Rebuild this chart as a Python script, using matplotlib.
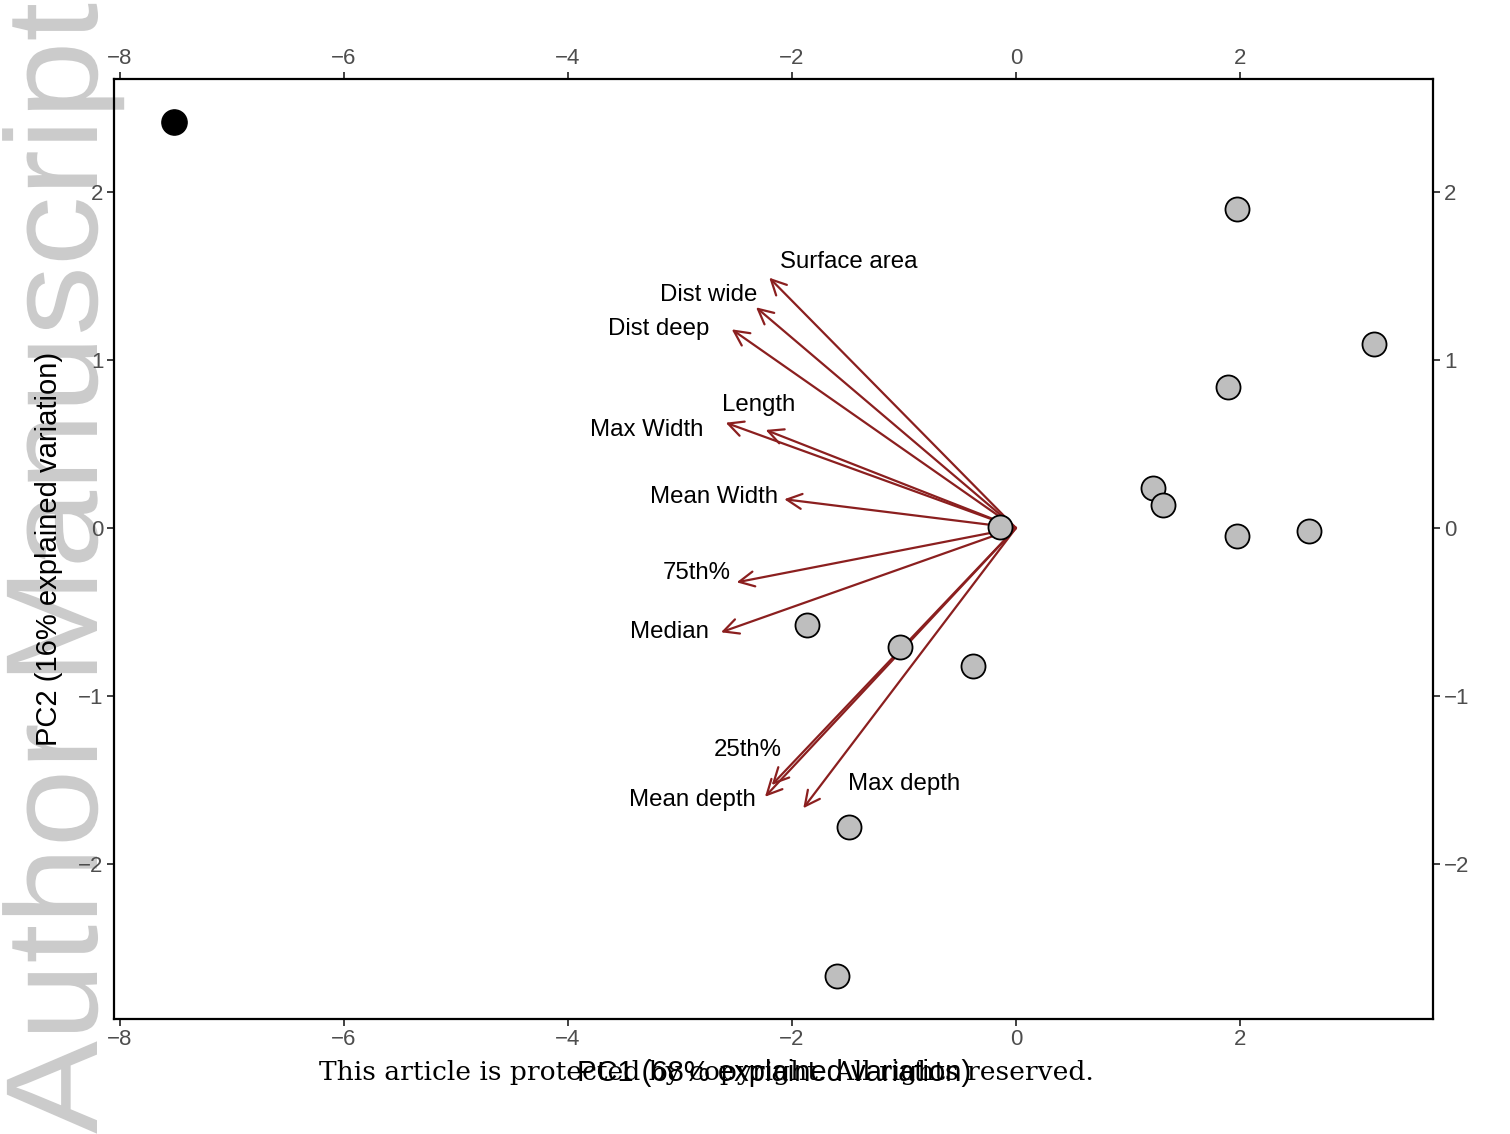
import numpy as np
import matplotlib
matplotlib.use("Agg")
import matplotlib.pyplot as plt
from matplotlib.textpath import TextPath
from matplotlib.patches import PathPatch
from matplotlib.font_manager import FontProperties
from matplotlib.transforms import Affine2D

plt.rcParams['font.family'] = ['Liberation Sans', 'DejaVu Sans']

# PCA scores (PC1, PC2)
pc1 = [1.97, 3.196, 1.893, 1.223, 1.313, 1.973, 2.616, -0.143,
       -1.869, -1.036, -0.381, -1.488, -1.598]
pc2 = [1.897, 1.094, 0.838, 0.238, 0.137, -0.048, -0.018, 0.006,
       -0.577, -0.709, -0.820, -1.779, -2.663]
# the single outlying site
out_pc1 = [-7.518]
out_pc2 = [2.414]

# loadings (arrow tips) and label positions
variables = ['Surface area', 'Dist wide', 'Dist deep', 'Length', 'Max Width',
             'Mean Width', '75th%', 'Median', '25th%', 'Mean depth', 'Max depth']
load_x = [-2.203, -2.321, -2.538, -2.235, -2.592, -2.069, -2.494, -2.634,
          -2.181, -2.241, -1.899]
load_y = [1.488, 1.312, 1.181, 0.583, 0.626, 0.171, -0.323, -0.620,
          -1.528, -1.598, -1.666]
lab_x = [-1.491, -2.746, -3.192, -2.295, -3.295, -2.692, -2.848, -3.098,
         -2.397, -2.893, -0.996]
lab_y = [1.581, 1.385, 1.183, 0.731, 0.583, 0.184, -0.268, -0.618,
         -1.320, -1.617, -1.520]

xticks = [-8, -6, -4, -2, 0, 2]
yticks = [-2, -1, 0, 1, 2]

fig = plt.figure(figsize=(15.1, 11.34), dpi=100)
ax = fig.add_axes([0.0755, 0.1014, 0.8738, 0.8289])
ax.set_facecolor('none')

arrow_col = '#8b1f1f'
for x, y in zip(load_x, load_y):
    ax.annotate('', xy=(x, y), xytext=(0, 0),
                arrowprops=dict(arrowstyle='->, head_length=0.4, head_width=0.2',
                                color=arrow_col, lw=1.6, mutation_scale=27,
                                shrinkA=0, shrinkB=0), zorder=2)
for name, x, y in zip(variables, lab_x, lab_y):
    ax.text(x, y, name, ha='center', va='center', fontsize=17.3, color='black', zorder=4)

ax.scatter(pc1, pc2, s=300, facecolor='#bebebe', edgecolor='black', linewidth=1.3, zorder=3)
ax.scatter(out_pc1, out_pc2, s=330, facecolor='black', edgecolor='black', linewidth=1.0, zorder=3)

ax.set_xlim(-8.054, 3.728)
ax.set_ylim(-2.919, 2.669)
ax.set_xticks(xticks)
ax.set_yticks(yticks)
ax.tick_params(axis='both', direction='out', length=5, width=1.3, color='#333333',
               labelcolor='#4d4d4d', labelsize=16, pad=2.5,
               top=True, right=True, labeltop=True, labelright=True)
for sp in ax.spines.values():
    sp.set_linewidth(1.6)
    sp.set_color('black')

ax.set_xlabel('PC1 (68% explained variation)', fontsize=21, va='center')
ax.xaxis.set_label_coords(0.5, -0.0574)
ax.set_ylabel('PC2 (16% explained variation)', fontsize=21, va='center')
ax.yaxis.set_label_coords(-0.049, 0.5)

# watermark
tp = TextPath((0, 0), 'Author Manuscript', size=1,
              prop=FontProperties(family='Liberation Sans'))
wm = PathPatch(tp, facecolor='#cbcbcb', edgecolor='none', zorder=-5,
               transform=Affine2D().scale(139.4, 131).rotate_deg(90).translate(97, 0))
fig.add_artist(wm)

note = fig.text(0.4679, 0.0538, 'This article is protected by copyright. All rights reserved.',
                ha='center', va='center', fontsize=22, family='DejaVu Serif', color='black')
fig.canvas.draw()
w = note.get_window_extent().width
note.set_fontsize(22 * 773 / w)

fig.savefig('out.png', dpi=100)
